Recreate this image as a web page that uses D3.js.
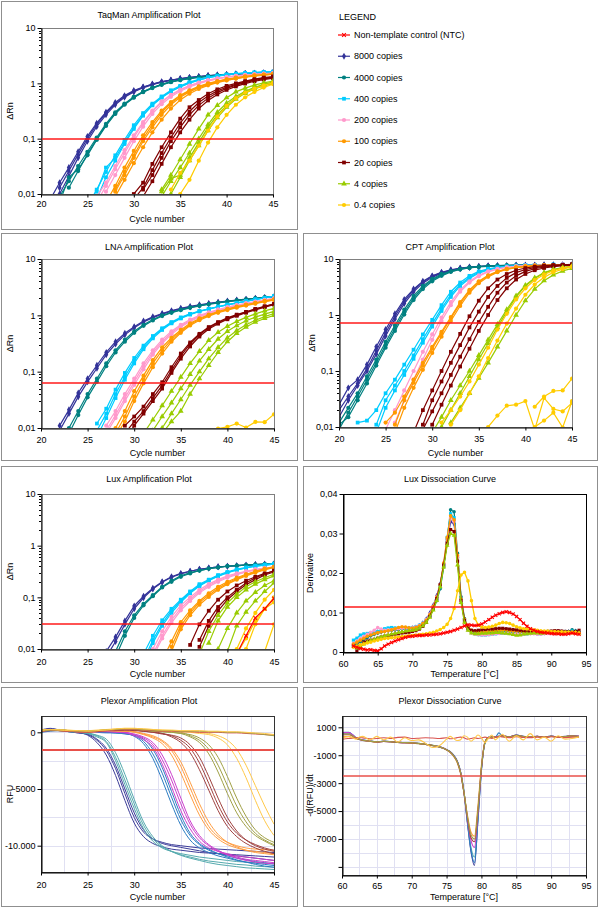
<!DOCTYPE html>
<html>
<head>
<meta charset="utf-8">
<script src="https://cdn.jsdelivr.net/npm/d3@7"></script>
<style>
  body { margin: 0; background: #fff; }
  svg { display: block; font-family: "Liberation Sans", Arial, Helvetica, sans-serif; font-size: 9px; }
</style>
</head>
<body>
<svg id="fig" width="600" height="907"></svg>
<script>
'use strict';

// ---- data ------------------------------------------------------------------

const groups = ['NTC', '8000', '4000', '400', '200', '100', '20', '4', '0.4'];
const groupLabels = ['Non-template control (NTC)', '8000 copies', '4000 copies', '400 copies',
  '200 copies', '100 copies', '20 copies', '4 copies', '0.4 copies'];
const groupColors = ['#ff0000', '#333399', '#008080', '#00ccff', '#ff99cc', '#ff9900', '#800000', '#99cc00', '#ffcc00'];
const groupMarkers = ['x', 'diamond', 'circle', 'square', 'circle', 'circle', 'square', 'triangle', 'circle'];
const plexorColors = {NTC: '#d9534f', '8000': '#3d3d99', '4000': '#55aaae', '400': '#2b7cc2', '200': '#cc3fcc',
  '100': '#ff9d40', '20': '#a0413f', '4': '#a0a045', '0.4': '#ffc94a'};

const cycles = [20, 21, 22, 23, 24, 25, 26, 27, 28, 29, 30, 31, 32, 33, 34, 35, 36, 37, 38, 39, 40, 41, 42, 43, 44, 45];

// [group, first cycle, delta Rn per cycle]
const taqmanCurves = [
  ['8000', 22, [0.013,0.026,0.052,0.1,0.18,0.29,0.43,0.58,0.72,0.85,0.96,1.06,1.14,1.21,1.27,1.32,1.37,1.41,1.44,1.47,1.5,1.52,1.54,1.56]],
  ['8000', 21, [0.008,0.016,0.03,0.058,0.11,0.19,0.3,0.45,0.6,0.74,0.86,0.97,1.07,1.15,1.22,1.28,1.33,1.38,1.42,1.45,1.48,1.51,1.53,1.55,1.57]],
  ['8000', 22, [0.01,0.021,0.045,0.09,0.165,0.27,0.41,0.56,0.7,0.83,0.95,1.05,1.13,1.2,1.26,1.31,1.36,1.4,1.43,1.46,1.49,1.51,1.53,1.55]],
  ['4000', 22, [0.009,0.017,0.032,0.058,0.105,0.185,0.3,0.43,0.57,0.71,0.84,0.96,1.07,1.16,1.24,1.3,1.35,1.4,1.44,1.47,1.5,1.52,1.54,1.56]],
  ['4000', 23, [0.013,0.026,0.052,0.098,0.175,0.285,0.42,0.56,0.7,0.83,0.95,1.06,1.15,1.23,1.29,1.34,1.39,1.43,1.46,1.49,1.51,1.53,1.55]],
  ['4000', 22, [0.007,0.02,0.028,0.05,0.095,0.17,0.28,0.41,0.55,0.69,0.82,0.94,1.05,1.14,1.22,1.28,1.34,1.39,1.43,1.46,1.49,1.51,1.53,1.55]],
  ['400', 25, [0.006,0.012,0.025,0.05,0.095,0.175,0.29,0.43,0.58,0.75,0.9,1.05,1.18,1.29,1.38,1.45,1.5,1.54,1.57,1.6,1.62]],
  ['400', 26, [0.011,0.03,0.045,0.085,0.16,0.27,0.41,0.56,0.72,0.87,1.02,1.15,1.27,1.36,1.43,1.49,1.53,1.56,1.59,1.61]],
  ['400', 26, [0.008,0.02,0.04,0.08,0.15,0.26,0.4,0.55,0.71,0.86,1.01,1.14,1.26,1.35,1.42,1.48,1.52,1.56,1.59,1.61]],
  ['200', 26, [0.007,0.014,0.028,0.055,0.105,0.19,0.31,0.46,0.61,0.76,0.9,1.02,1.13,1.22,1.3,1.36,1.41,1.45,1.49,1.52]],
  ['200', 26, [0.009,0.016,0.032,0.062,0.115,0.2,0.32,0.47,0.62,0.77,0.91,1.03,1.14,1.23,1.31,1.37,1.42,1.46,1.5,1.53]],
  ['200', 27, [0.011,0.022,0.045,0.09,0.165,0.28,0.42,0.57,0.72,0.86,0.99,1.1,1.2,1.28,1.35,1.4,1.45,1.49,1.52]],
  ['100', 27, [0.007,0.014,0.03,0.06,0.115,0.2,0.32,0.46,0.61,0.75,0.88,1.0,1.1,1.19,1.27,1.34,1.39,1.44,1.48]],
  ['100', 28, [0.012,0.025,0.05,0.1,0.18,0.3,0.44,0.59,0.73,0.86,0.98,1.08,1.17,1.25,1.32,1.38,1.43,1.47]],
  ['100', 28, [0.009,0.018,0.036,0.07,0.13,0.22,0.35,0.5,0.65,0.79,0.92,1.03,1.13,1.22,1.3,1.37,1.42,1.46]],
  ['100', 28, [0.011,0.022,0.045,0.09,0.16,0.27,0.41,0.56,0.7,0.83,0.95,1.05,1.14,1.22,1.29,1.35,1.4,1.45]],
  ['20', 30, [0.01,0.016,0.035,0.07,0.13,0.23,0.37,0.5,0.65,0.78,0.9,1.0,1.1,1.19,1.27,1.33]],
  ['20', 30, [0.008,0.013,0.027,0.055,0.105,0.19,0.31,0.45,0.59,0.73,0.85,0.96,1.06,1.16,1.24,1.3]],
  ['20', 31, [0.012,0.022,0.045,0.09,0.16,0.27,0.4,0.54,0.68,0.81,0.93,1.03,1.13,1.21,1.27]],
  ['20', 31, [0.009,0.017,0.035,0.07,0.13,0.22,0.35,0.49,0.63,0.76,0.88,0.99,1.09,1.17,1.24]],
  ['4', 33, [0.012,0.022,0.042,0.08,0.15,0.27,0.4,0.55,0.7,0.82,0.93,1.02,1.1]],
  ['4', 33, [0.009,0.017,0.03,0.055,0.1,0.18,0.3,0.44,0.58,0.72,0.85,0.96,1.05]],
  ['4', 33, [0.011,0.019,0.022,0.045,0.085,0.16,0.27,0.4,0.55,0.69,0.82,0.93,1.02]],
  ['4', 34, [0.01,0.02,0.04,0.075,0.14,0.24,0.37,0.52,0.66,0.79,0.9,1.0]],
  ['0.4', 35, [0.01,0.018,0.04,0.085,0.16,0.27,0.41,0.56,0.7,0.84,0.97]],
  ['0.4', 34, [0.012,0.024,0.04,0.075,0.14,0.25,0.39,0.54,0.68,0.8,0.92,1.02]]
];

const lnaCurves = [
  ['8000', 22, [0.011,0.021,0.042,0.075,0.13,0.22,0.34,0.48,0.63,0.79,0.94,1.08,1.21,1.33,1.44,1.54,1.63,1.71,1.79,1.87,1.94,2.01,2.07,2.13]],
  ['8000', 22, [0.009,0.018,0.036,0.066,0.115,0.2,0.31,0.45,0.6,0.76,0.91,1.05,1.18,1.3,1.41,1.51,1.6,1.69,1.77,1.85,1.92,1.99,2.05,2.12]],
  ['4000', 23, [0.01,0.02,0.04,0.075,0.14,0.24,0.37,0.52,0.68,0.84,1.0,1.13,1.26,1.38,1.49,1.59,1.68,1.77,1.85,1.93,2.01,2.09,2.18]],
  ['4000', 23, [0.008,0.017,0.035,0.066,0.125,0.22,0.34,0.49,0.65,0.81,0.97,1.11,1.24,1.36,1.47,1.57,1.66,1.75,1.84,1.92,2.0,2.08,2.16]],
  ['400', 26, [0.012,0.022,0.048,0.095,0.175,0.29,0.43,0.59,0.76,0.92,1.06,1.19,1.31,1.43,1.55,1.67,1.79,1.92,2.05,2.2]],
  ['400', 26, [0.009,0.018,0.04,0.082,0.155,0.27,0.41,0.57,0.74,0.9,1.05,1.18,1.3,1.42,1.54,1.66,1.78,1.91,2.04,2.18]],
  ['400', 26, [0.007,0.015,0.034,0.072,0.14,0.25,0.39,0.55,0.72,0.88,1.03,1.17,1.29,1.41,1.53,1.65,1.77,1.9,2.03,2.17]],
  ['200', 27, [0.011,0.02,0.04,0.075,0.14,0.24,0.37,0.52,0.68,0.84,1.0,1.13,1.27,1.4,1.52,1.64,1.76,1.88,2.0]],
  ['200', 27, [0.009,0.017,0.034,0.066,0.125,0.22,0.34,0.49,0.65,0.81,0.96,1.1,1.24,1.37,1.5,1.62,1.74,1.86,1.98]],
  ['200', 27, [0.008,0.015,0.03,0.058,0.11,0.2,0.32,0.46,0.62,0.78,0.94,1.08,1.22,1.35,1.48,1.6,1.72,1.84,1.96]],
  ['100', 28, [0.01,0.02,0.045,0.085,0.16,0.27,0.4,0.55,0.72,0.88,1.03,1.17,1.3,1.43,1.55,1.67,1.8,1.92]],
  ['100', 28, [0.008,0.016,0.036,0.072,0.14,0.24,0.37,0.52,0.69,0.85,1.0,1.14,1.27,1.4,1.52,1.64,1.77,1.9]],
  ['100', 28, [0.007,0.013,0.03,0.062,0.12,0.21,0.34,0.49,0.66,0.82,0.97,1.11,1.24,1.37,1.49,1.61,1.74,1.87]],
  ['20', 29, [0.011,0.016,0.024,0.04,0.065,0.12,0.21,0.33,0.47,0.62,0.76,0.9,1.03,1.15,1.3,1.45,1.6]],
  ['20', 29, [0.008,0.013,0.02,0.034,0.057,0.105,0.19,0.31,0.45,0.6,0.74,0.88,1.01,1.14,1.28,1.43,1.58]],
  ['20', 29, [0.006,0.011,0.018,0.03,0.05,0.095,0.17,0.28,0.42,0.57,0.71,0.85,0.98,1.11,1.25,1.4,1.55]],
  ['4', 31, [0.008,0.014,0.025,0.045,0.08,0.14,0.23,0.36,0.5,0.64,0.78,0.92,1.06,1.2,1.33]],
  ['4', 32, [0.009,0.016,0.028,0.05,0.09,0.155,0.25,0.38,0.52,0.66,0.8,0.93,1.05,1.18]],
  ['4', 32, [0.006,0.01,0.018,0.032,0.058,0.1,0.17,0.27,0.4,0.54,0.68,0.82,0.95,1.08]],
  ['4', 33, [0.008,0.013,0.02,0.04,0.075,0.13,0.22,0.34,0.48,0.62,0.76,0.88,1.0]],
  ['0.4', 39, [0.0098,0.0105,0.012,0.0102,0.0128,0.0127,0.0175]]
];

const cptCurves = [
  ['8000', 20, [0.025,0.05,0.07,0.13,0.27,0.55,1.05,1.9,2.9,4.0,5.0,5.8,6.4,6.9,7.2,7.4,7.5,7.6,7.6,7.7,7.7,7.7,7.8,7.8,7.8,7.8]],
  ['8000', 20, [0.02,0.035,0.06,0.11,0.23,0.48,0.95,1.75,2.8,3.9,4.9,5.7,6.3,6.8,7.1,7.3,7.5,7.6,7.6,7.7,7.7,7.7,7.8,7.8,7.8,7.8]],
  ['8000', 20, [0.015,0.03,0.055,0.1,0.2,0.42,0.85,1.6,2.6,3.7,4.7,5.6,6.2,6.7,7.1,7.3,7.5,7.6,7.6,7.7,7.7,7.7,7.8,7.8,7.8,7.8]],
  ['4000', 20, [0.012,0.022,0.04,0.08,0.16,0.33,0.65,1.25,2.2,3.3,4.4,5.4,6.1,6.7,7.1,7.3,7.5,7.6,7.7,7.7,7.8,7.8,7.8,7.8,7.8,7.8]],
  ['4000', 20, [0.009,0.018,0.035,0.07,0.14,0.29,0.58,1.12,2.0,3.1,4.2,5.2,6.0,6.6,7.0,7.3,7.5,7.6,7.7,7.7,7.8,7.8,7.8,7.8,7.8,7.8]],
  ['4000', 20, [0.011,0.015,0.03,0.06,0.125,0.26,0.52,1.02,1.85,2.9,4.0,5.0,5.9,6.5,6.9,7.2,7.4,7.5,7.6,7.7,7.7,7.8,7.8,7.8,7.8,7.8]],
  ['400', 22, [0.012,0.013,0.02,0.04,0.07,0.13,0.24,0.45,0.82,1.5,2.6,3.8,5.0,6.0,6.7,7.1,7.4,7.6,7.7,7.8,7.8,7.9,7.9,7.9]],
  ['400', 24, [0.011,0.03,0.055,0.1,0.19,0.37,0.7,1.3,2.3,3.5,4.7,5.8,6.5,7.0,7.3,7.5,7.7,7.8,7.8,7.9,7.9,7.9]],
  ['400', 24, [0.008,0.022,0.045,0.085,0.165,0.32,0.62,1.18,2.1,3.3,4.5,5.6,6.4,6.9,7.3,7.5,7.7,7.8,7.8,7.9,7.9,7.9]],
  ['200', 26, [0.012,0.03,0.07,0.16,0.36,0.78,1.5,2.6,3.8,4.9,5.9,6.6,7.1,7.4,7.6,7.7,7.8,7.8,7.9,7.9]],
  ['200', 25, [0.009,0.02,0.045,0.1,0.22,0.45,0.9,1.7,2.8,4.0,5.1,6.0,6.7,7.1,7.4,7.6,7.7,7.8,7.8,7.9,7.9]],
  ['100', 25, [0.012,0.018,0.035,0.07,0.14,0.27,0.5,0.92,1.7,2.8,4.0,5.1,6.0,6.7,7.1,7.4,7.6,7.7,7.8,7.8,7.9]],
  ['100', 26, [0.011,0.03,0.062,0.125,0.25,0.47,0.88,1.6,2.7,3.9,5.0,5.9,6.6,7.1,7.4,7.6,7.7,7.8,7.8,7.9]],
  ['100', 26, [0.008,0.022,0.05,0.105,0.21,0.41,0.78,1.45,2.5,3.7,4.8,5.8,6.5,7.0,7.3,7.5,7.7,7.8,7.8,7.9]],
  ['20', 28, [0.008,0.02,0.045,0.1,0.22,0.46,0.95,1.8,3.0,4.3,5.4,6.3,6.9,7.3,7.6,7.8,7.9,8.0]],
  ['20', 29, [0.011,0.03,0.065,0.14,0.29,0.6,1.15,2.1,3.3,4.6,5.7,6.5,7.0,7.4,7.6,7.8,7.9]],
  ['20', 29, [0.009,0.019,0.04,0.085,0.18,0.37,0.75,1.4,2.5,3.8,5.0,6.0,6.7,7.2,7.5,7.7,7.9]],
  ['20', 30, [0.011,0.025,0.055,0.12,0.25,0.52,1.0,1.85,3.0,4.3,5.4,6.3,6.9,7.3,7.6,7.8]],
  ['4', 30, [0.008,0.015,0.03,0.055,0.1,0.19,0.36,0.68,1.25,2.2,3.4,4.6,5.7,6.5,7.0,7.4]],
  ['4', 31, [0.01,0.02,0.04,0.08,0.16,0.31,0.6,1.15,2.1,3.3,4.5,5.6,6.4,7.0,7.4]],
  ['4', 32, [0.012,0.022,0.04,0.075,0.14,0.27,0.52,1.0,1.8,2.9,4.1,5.2,6.1,6.8]],
  ['0.4', 31, [0.012,0.02,0.035,0.065,0.13,0.26,0.55,1.05,1.9,3.0,4.2,5.3,6.2,6.9,7.4]],
  ['0.4', 32, [0.011,0.02,0.04,0.08,0.17,0.35,0.7,1.3,2.3,3.5,4.7,5.8,6.6,7.2]],
  ['0.4', 36, [0.01,0.016,0.024,0.025,0.029,0.009]],
  ['0.4', 41, [0.023,0.035,0.044,0.045,0.073]],
  ['0.4', 41, [0.01,0.013,0.018,0.0098,0.029]],
  ['0.4', 41, [0.009,0.033,0.021,0.019,0.027]]
];

const luxCurves = [
  ['8000', 27, [0.009,0.017,0.035,0.068,0.105,0.15,0.2,0.25,0.29,0.32,0.35,0.37,0.39,0.4,0.41,0.42,0.43,0.43,0.44]],
  ['8000', 27, [0.007,0.014,0.03,0.06,0.098,0.145,0.195,0.245,0.285,0.32,0.35,0.37,0.39,0.4,0.41,0.42,0.43,0.44,0.44]],
  ['4000', 28, [0.009,0.022,0.045,0.075,0.11,0.16,0.21,0.26,0.3,0.33,0.36,0.38,0.4,0.41,0.42,0.43,0.44,0.45]],
  ['4000', 28, [0.007,0.018,0.04,0.07,0.105,0.155,0.2,0.25,0.29,0.33,0.36,0.38,0.4,0.41,0.42,0.43,0.44,0.45]],
  ['400', 31, [0.008,0.018,0.036,0.06,0.09,0.13,0.18,0.22,0.27,0.31,0.35,0.38,0.41,0.43,0.45]],
  ['400', 31, [0.006,0.015,0.031,0.055,0.085,0.125,0.17,0.215,0.26,0.3,0.34,0.37,0.4,0.42,0.44]],
  ['400', 31, [0.005,0.013,0.028,0.05,0.08,0.12,0.165,0.21,0.255,0.3,0.34,0.37,0.4,0.42,0.44]],
  ['200', 32, [0.01,0.022,0.042,0.07,0.1,0.14,0.18,0.22,0.26,0.29,0.32,0.35,0.37,0.39]],
  ['200', 32, [0.008,0.018,0.036,0.062,0.092,0.13,0.17,0.21,0.25,0.28,0.31,0.34,0.36,0.38]],
  ['200', 32, [0.007,0.016,0.032,0.056,0.085,0.122,0.16,0.2,0.24,0.275,0.31,0.34,0.36,0.38]],
  ['100', 33, [0.006,0.014,0.033,0.056,0.085,0.12,0.16,0.2,0.24,0.28,0.32,0.36,0.39]],
  ['100', 34, [0.011,0.028,0.05,0.08,0.11,0.15,0.19,0.23,0.27,0.31,0.35,0.39]],
  ['100', 34, [0.009,0.024,0.045,0.072,0.102,0.14,0.18,0.22,0.26,0.3,0.34,0.38]],
  ['20', 36, [0.012,0.03,0.055,0.09,0.13,0.17,0.21,0.25,0.29,0.32]],
  ['20', 37, [0.015,0.035,0.065,0.1,0.14,0.19,0.24,0.28,0.33]],
  ['20', 37, [0.011,0.028,0.055,0.09,0.13,0.175,0.22,0.27,0.31]],
  ['4', 37, [0.008,0.022,0.045,0.078,0.115,0.16,0.2,0.24,0.28]],
  ['4', 38, [0.013,0.035,0.065,0.1,0.14,0.18,0.22,0.26]],
  ['4', 39, [0.01,0.025,0.05,0.085,0.125,0.17,0.21]],
  ['4', 40, [0.009,0.028,0.052,0.085,0.13,0.19]],
  ['0.4', 41, [0.01,0.025,0.05,0.09,0.14]],
  ['0.4', 42, [0.01,0.03,0.06,0.1]],
  ['0.4', 44, [0.009,0.03]],
  ['0.4', 41, [0.008,0.016,0.035,0.06,0.08]],
  ['NTC', 41, [0.008,0.018,0.04,0.06,0.095]]
];

// Lux melt curve, derivative in units of 0.001
const luxMeltTemps = [61.5,
  62,62.5,63,63.5,64,64.5,65,65.5,66,66.5,
  67,67.5,68,68.5,69,69.5,70,70.5,71,71.5,
  72,72.5,73,73.5,74,74.5,75,75.5,76,76.5,
  77,77.5,78,78.5,79,79.5,80,80.5,81,81.5,
  82,82.5,83,83.5,84,84.5,85,85.5,86,86.5,
  87,87.5,88,88.5,89,89.5,90,90.5,91,91.5,
  92,92.5,93,93.5,94];
const luxMeltCurves = [
  ['8000', [1.8,
    2.2,2.8,3.4,3.9,4.3,4.7,5.0,5.2,5.4,5.5,
    5.6,5.7,5.7,5.8,5.8,5.9,6.0,6.2,6.6,7.3,
    8.3,9.8,11.8,14.2,17.2,22.0,28.0,33.0,32.5,24.0,
    13.5,8.0,5.9,5.1,4.8,4.7,4.7,4.8,4.9,5.0,
    5.1,5.2,5.2,5.1,5.0,4.9,4.9,4.8,4.8,4.9,
    4.9,5.0,4.9,4.8,4.9,5.0,5.0,4.9,5.0,5.0,
    5.0,5.1,5.3,5.2,5.0]],
  ['4000', [1.5,
    2.0,2.6,3.2,3.7,4.1,4.5,4.8,5.1,5.3,5.5,
    5.6,5.7,5.8,5.9,5.9,6.0,6.0,6.2,6.5,7.0,
    7.8,9.0,10.8,13.0,16.0,21.5,28.5,36.0,35.5,25.0,
    14.0,8.5,6.2,5.3,5.0,4.8,4.7,4.8,5.0,5.1,
    5.2,5.3,5.3,5.2,5.1,5.0,4.9,4.8,4.8,4.9,
    5.0,5.0,4.9,4.8,4.9,5.0,5.0,4.9,5.0,5.1,
    5.0,5.1,5.6,5.3,5.0]],
  ['400', [3.0,
    3.5,4.3,4.6,4.7,4.8,5.0,5.2,5.5,5.9,6.1,
    6.2,6.1,6.0,6.0,6.1,6.1,6.2,6.4,6.8,7.3,
    8.2,9.5,11.2,13.5,16.5,22.0,29.0,35.0,34.0,24.0,
    13.5,8.0,5.8,5.0,4.6,4.4,4.3,4.3,4.4,4.5,
    4.6,4.7,4.8,4.8,4.7,4.6,4.6,4.5,4.5,4.6,
    4.7,4.7,4.6,4.6,4.7,4.8,4.8,4.7,4.8,4.8,
    4.9,5.0,5.3,5.1,4.9]],
  ['200', [2.2,
    2.8,3.4,4.0,4.5,5.0,5.5,6.2,5.8,5.5,5.6,
    5.7,5.8,5.9,6.0,6.0,6.0,6.1,6.3,6.7,7.3,
    8.2,9.6,11.6,14.0,17.0,22.5,28.5,34.0,33.0,24.0,
    13.0,7.5,5.5,4.8,4.5,4.4,4.3,4.3,4.4,4.5,
    4.6,4.7,4.8,4.8,4.7,4.6,4.6,4.5,4.5,4.6,
    4.6,4.6,4.5,4.5,4.6,4.7,4.7,4.6,4.7,4.7,
    4.8,4.8,5.0,4.9,4.7]],
  ['100', [2.0,
    2.5,3.0,3.5,4.0,4.3,4.6,4.9,5.1,5.2,5.4,
    5.6,5.9,6.2,6.4,6.3,6.1,6.0,6.2,6.6,7.2,
    8.0,9.4,11.5,13.8,17.0,22.5,29.0,34.5,33.5,24.5,
    13.5,8.3,6.3,5.5,5.2,5.0,5.0,5.1,5.2,5.3,
    5.4,5.4,5.5,5.5,5.4,5.3,5.3,5.2,5.2,5.1,
    5.1,5.0,5.0,5.0,5.1,5.1,5.0,5.0,4.9,4.9,
    5.0,4.9,4.8,4.9,4.8]],
  ['20', [null,
    0.3,1.5,2.5,2.8,3.0,3.2,3.5,3.8,4.0,4.2,
    4.3,4.5,4.6,4.8,4.9,5.0,5.2,5.4,5.8,6.5,
    7.5,9.0,11.0,13.5,17.0,22.0,27.5,31.0,30.5,23.0,
    13.0,8.0,6.0,5.5,5.4,5.5,5.6,5.7,5.8,5.8,
    5.9,6.0,6.0,5.9,5.8,5.7,5.6,5.5,5.4,5.3,
    5.2,5.2,5.1,5.0,5.1,5.2,5.3,5.4,5.4,5.3,
    5.2,5.1,5.0,5.2,5.5]],
  ['4', [null,
    1.0,1.5,2.0,2.5,2.9,3.2,3.5,3.8,4.1,4.3,
    4.5,4.7,4.9,5.1,5.3,5.4,5.5,5.6,6.0,6.6,
    7.5,8.8,10.6,13.0,16.5,21.5,27.0,30.0,29.5,22.0,
    12.5,7.5,5.5,4.8,4.6,4.6,4.7,4.7,4.8,4.8,
    4.9,4.9,4.8,4.7,4.6,4.4,4.2,4.3,4.5,4.6,
    4.7,4.8,4.8,4.7,4.8,4.9,4.9,4.8,4.8,4.9,
    4.9,5.0,5.0,4.9,4.8]],
  ['0.4', [1.2,
    1.5,1.8,2.0,2.3,2.5,2.8,3.0,3.2,3.4,3.5,
    3.6,3.7,3.8,3.9,4.0,4.1,4.2,4.3,4.4,4.5,
    4.6,4.8,5.0,5.3,5.7,6.2,7.0,8.5,11.0,15.5,
    19.5,20.2,18.0,13.0,8.5,6.8,6.3,6.2,6.3,6.5,
    6.8,7.2,7.5,7.4,7.2,6.8,6.4,6.1,5.9,5.8,
    5.7,5.6,5.5,5.4,5.3,5.3,5.2,5.2,5.1,5.1,
    5.0,5.0,5.0,4.9,4.8]],
  ['NTC', [1.5,
    1.2,0.9,0.7,0.5,0.6,0.4,0.3,0.8,1.5,2.0,
    2.4,2.8,3.1,3.4,3.7,3.9,4.0,4.1,4.2,4.2,
    4.3,4.3,4.4,4.5,4.6,4.8,5.0,5.2,5.5,5.8,
    6.2,6.6,6.9,6.8,6.7,6.8,7.1,7.6,8.2,8.8,
    9.3,9.7,10.0,10.2,10.0,9.6,9.0,8.2,7.3,6.5,
    5.9,5.5,5.2,5.0,4.9,4.8,4.7,4.6,4.6,4.5,
    4.5,4.6,4.8,4.6,4.5]]
];

// Plexor RFU, cycles 20..45
const plexorCurves = [
  ['8000', [150,300,200,50,-50,-200,-700,-1600,-3200,-5400,-7500,-8800,-9400,-9700,-9900,-10000,-10100,-10200,-10250,-10300,-10350,-10400,-10450,-10500,-10550,-10600]],
  ['8000', [100,250,250,100,0,-250,-900,-2000,-3800,-6000,-8000,-9200,-9800,-10100,-10300,-10400,-10500,-10600,-10650,-10700,-10750,-10800,-10850,-10900,-10950,-11000]],
  ['8000', [200,350,200,50,-50,-150,-600,-1400,-2900,-5000,-7100,-8600,-9400,-9800,-10000,-10150,-10300,-10450,-10600,-10700,-10800,-10900,-11000,-11100,-11200,-11300]],
  ['4000', [100,200,150,50,0,-100,-300,-800,-2200,-4200,-6300,-8200,-9400,-10100,-10500,-10800,-11000,-11200,-11350,-11450,-11550,-11650,-11700,-11800,-11850,-11900]],
  ['4000', [50,150,150,100,50,-50,-250,-600,-1800,-3700,-5900,-7900,-9200,-10000,-10500,-10850,-11100,-11300,-11500,-11650,-11750,-11850,-11950,-12000,-12050,-12100]],
  ['4000', [150,250,200,100,0,-100,-400,-900,-2500,-4600,-6700,-8500,-9600,-10200,-10500,-10700,-10850,-11000,-11100,-11200,-11300,-11400,-11450,-11500,-11550,-11600]],
  ['400', [50,150,200,150,100,50,0,0,-50,-100,-300,-800,-1900,-3600,-5700,-7700,-9100,-9900,-10400,-10700,-10900,-11100,-11250,-11400,-11500,-11600]],
  ['400', [100,200,150,100,50,50,0,-50,-50,-150,-250,-600,-1500,-3100,-5200,-7300,-8900,-9800,-10300,-10700,-11000,-11250,-11450,-11650,-11800,-11900]],
  ['400', [0,100,150,100,50,0,0,0,-50,-100,-350,-1000,-2300,-4200,-6300,-8200,-9500,-10200,-10600,-10900,-11100,-11300,-11450,-11550,-11650,-11750]],
  ['200', [150,250,200,100,50,0,50,100,50,0,-200,-500,-1100,-2400,-4200,-6300,-8100,-9300,-10000,-10500,-10800,-11000,-11200,-11300,-11400,-11500]],
  ['200', [100,200,150,100,50,50,100,100,50,0,-150,-400,-900,-2000,-3700,-5800,-7800,-9100,-9900,-10400,-10800,-11100,-11300,-11450,-11550,-11600]],
  ['200', [150,250,200,100,50,0,50,50,0,-50,-300,-650,-1300,-2800,-4800,-6900,-8500,-9600,-10200,-10500,-10700,-10900,-11000,-11100,-11200,-11300]],
  ['100', [100,200,200,150,100,50,100,150,100,100,0,-200,-500,-1000,-2000,-3600,-5500,-7300,-8600,-9400,-9900,-10200,-10400,-10500,-10600,-10700]],
  ['100', [150,250,150,100,50,50,100,200,150,100,50,-150,-400,-800,-1600,-3000,-4900,-6800,-8300,-9200,-9700,-10000,-10200,-10300,-10350,-10400]],
  ['100', [100,200,150,100,50,0,50,150,150,100,50,-100,-300,-700,-1400,-2600,-4400,-6300,-7900,-9000,-9700,-10100,-10400,-10600,-10700,-10800]],
  ['20', [200,250,200,150,100,50,100,150,200,200,200,100,0,-100,-300,-700,-1400,-2700,-4500,-6400,-7900,-8900,-9500,-9900,-10200,-10400]],
  ['20', [150,250,200,100,50,50,100,150,150,200,150,100,50,-100,-400,-900,-1800,-3300,-5100,-6900,-8300,-9200,-9800,-10200,-10500,-10700]],
  ['20', [100,200,150,100,50,50,100,200,200,250,200,100,0,-150,-250,-500,-1100,-2200,-3900,-5800,-7500,-8700,-9500,-10000,-10300,-10500]],
  ['4', [200,250,200,150,100,100,150,200,250,300,300,200,150,100,50,0,-300,-700,-1500,-2900,-4700,-6500,-7900,-8900,-9500,-9900]],
  ['4', [150,200,200,150,100,100,150,200,250,300,250,200,100,50,0,-100,-200,-500,-1100,-2200,-3900,-5800,-7400,-8600,-9300,-9700]],
  ['4', [100,200,150,150,100,100,150,200,250,300,300,200,100,50,0,-100,-400,-900,-1900,-3500,-5400,-7100,-8300,-9100,-9600,-10000]],
  ['0.4', [200,250,250,200,150,150,200,250,300,350,350,300,250,200,150,100,50,0,-100,-300,-700,-1500,-2900,-4700,-6500,-8100]],
  ['0.4', [150,250,200,150,100,100,150,200,250,300,300,250,200,150,100,50,0,-100,-200,-500,-1100,-2300,-4000,-6000,-7800,-9100]],
  ['NTC', [50,150,150,100,50,50,100,150,200,250,250,200,150,100,100,50,50,0,0,0,-50,-50,-100,-150,-200,-250]],
  ['4', [100,200,200,150,100,100,150,200,250,300,300,250,200,150,150,100,100,100,50,50,0,0,-50,-100,-200,-300]],
  ['0.4', [150,250,200,150,150,100,150,200,300,350,350,300,250,200,200,150,150,150,100,100,50,50,0,-50,-100,-200]]
];

// Plexor melt curve, -d(RFU)/dT
const plexorMeltTemps = [60,60.5,61,61.5,62,62.5,63,
  64,65,66,67,68,69,70,71,72,73,74,
  75,75.5,76,76.5,77,77.5,78,78.5,79,79.5,80,80.5,81,81.5,82,82.5,83,
  84,85,86,87,88,89,90,91,92,93,94];
const plexorMeltCurves = [
  ['8000', [600,620,620,450,250,150,80, 20,-50,0,-30,-80,-100,-120,-160,-220,-300,-400,
    -600,-750,-1000,-1400,-2200,-3700,-5900,-7900,-8900,-5600,-2000,-100,280,320,300,350,400,
    300,450,350,300,350,300,380,300,350,400,350]],
  ['4000', [550,580,580,420,230,130,60, 0,-60,-20,-50,-90,-110,-130,-170,-230,-320,-420,
    -620,-780,-1050,-1450,-2250,-3700,-5800,-7600,-8300,-5400,-2000,-150,250,300,320,380,350,
    300,420,330,320,360,280,360,320,330,380,330]],
  ['400', [620,640,640,480,260,160,90, 30,-40,10,-20,-70,-90,-110,-150,-210,-290,-390,
    -580,-730,-980,-1380,-2150,-3600,-5800,-7800,-8700,-5700,-2100,-120,280,330,300,600,380,
    320,440,350,300,340,300,370,310,340,390,340]],
  ['200', [600,620,620,470,240,140,70, 10,-50,-10,-40,-80,-100,-120,-160,-220,-300,-400,
    -600,-760,-1020,-1420,-2200,-3700,-5600,-7100,-7600,-5200,-2000,-50,270,310,290,340,400,
    310,430,340,310,350,290,360,320,340,380,360]],
  ['100', [320,330,330,280,200,120,60, 0,-60,-20,-40,-90,-110,-130,-170,-230,-310,-420,
    -620,-800,-1080,-1500,-2300,-3700,-5300,-6500,-6800,-4600,-1700,-50,260,300,280,330,370,
    300,420,330,300,340,280,350,300,330,370,320]],
  ['20', [450,470,470,380,220,130,60, 0,-50,-10,-40,-80,-100,-120,-160,-220,-300,-410,
    -610,-770,-1040,-1440,-2250,-3700,-5500,-6900,-7200,-5000,-1900,-80,270,310,290,340,390,
    310,430,340,300,350,290,360,310,340,380,350]],
  ['4', [500,520,520,400,230,140,70, 10,-40,0,-30,-70,-90,-110,-150,-210,-290,-400,
    -600,-760,-1030,-1430,-2200,-3650,-5400,-6700,-7000,-4900,-1900,-100,260,300,280,320,380,
    300,410,330,300,340,280,350,300,330,370,340]],
  ['NTC', [150,180,200,220,250,260,240, 180,200,250,200,280,300,200,220,250,230,200,
    250,180,200,260,300,250,150,200,250,200,230,300,250,200,280,350,300,
    250,320,280,260,300,280,320,300,260,300,280]],
  ['0.4', [200,300,350,250,150,300,350, 100,350,100,300,-50,250,50,100,-150,-450,-300,
    150,350,200,50,100,400,300,0,200,450,250,-100,200,450,100,300,500,
    0,400,100,550,100,300,0,400,150,200,300]]
];

const taqmanThreshold = 0.1;
const lnaThreshold = 0.063;
const cptThreshold = 0.72;
const luxThreshold = 0.03;
const luxMeltThreshold = 11.3;
const plexorThreshold = -1530;
const plexorMeltThreshold = -2480;

// ---- drawing ---------------------------------------------------------------

const svg = d3.select('#fig');
const symbolTypes = {
  diamond: d3.symbolDiamond, circle: d3.symbolCircle, square: d3.symbolSquare, triangle: d3.symbolTriangle
};

function drawMarker(parent, cx, cy, type, color, size) {
  if (type === 'x') {
    const r = Math.sqrt(size) / 2;
    parent.append('path')
      .attr('d', `M${cx - r},${cy - r}L${cx + r},${cy + r}M${cx - r},${cy + r}L${cx + r},${cy - r}`)
      .attr('stroke', color).attr('stroke-width', 1.1).attr('fill', 'none');
    return;
  }
  parent.append('path')
    .attr('transform', `translate(${cx},${cy})`)
    .attr('d', d3.symbol(symbolTypes[type], size)())
    .attr('fill', color);
}

const logFormat = d => String(d).replace('.', ',');
const panels = [];

function buildPanel(cfg) {
  const [bx, by, bw, bh] = cfg.box;
  const [x0, x1, y0, y1] = cfg.plot;
  const root = svg.append('g');
  root.append('rect')
    .attr('x', bx + .5).attr('y', by + .5).attr('width', bw).attr('height', bh)
    .attr('fill', '#fff').attr('stroke', '#8f8f8f');
  root.append('text')
    .attr('x', bx + bw / 2).attr('y', cfg.titleY + 3)
    .attr('text-anchor', 'middle').text(cfg.title);

  const x = d3.scaleLinear().domain(cfg.xDomain).range([x0, x1]);
  const y = (cfg.log ? d3.scaleLog() : d3.scaleLinear()).domain(cfg.yDomain).range([y1, y0]);

  const grid = root.append('g').attr('stroke', '#e0e0f2');
  (cfg.xGrid || []).forEach(v => {
    const px = Math.round(x(v)) + .5;
    grid.append('line').attr('x1', px).attr('x2', px).attr('y1', y0).attr('y2', y1);
  });
  (cfg.yGrid || []).forEach(v => {
    const py = Math.round(y(v)) + .5;
    grid.append('line').attr('x1', x0).attr('x2', x1).attr('y1', py).attr('y2', py);
  });

  root.append('clipPath').attr('id', 'clip-' + cfg.id)
    .append('rect').attr('x', x0).attr('y', y0).attr('width', x1 - x0).attr('height', y1 - y0);
  const plot = root.append('g').attr('clip-path', `url(#clip-${cfg.id})`);
  const p = {cfg, root, plot, x, y};
  panels.push(p);
  return p;
}

function finishPanel(p) {
  const {cfg, root, x, y} = p;
  const [x0, x1, y0, y1] = cfg.plot;
  root.append('rect')
    .attr('x', x0 + .5).attr('y', y0 + .5).attr('width', x1 - x0).attr('height', y1 - y0)
    .attr('fill', 'none').attr('stroke', cfg.frame);

  const xAxis = root.append('g').attr('transform', `translate(0,${y1 + .5})`)
    .call(d3.axisBottom(x).tickValues(cfg.xTicks).tickSize(3).tickSizeOuter(0)
      .tickPadding(cfg.xPad).tickFormat(d3.format('d')));
  const yAxis = root.append('g').attr('transform', `translate(${x0 + .5},0)`)
    .call(d3.axisLeft(y).tickValues(cfg.yTicks).tickSize(4).tickSizeOuter(0)
      .tickPadding(2).tickFormat(cfg.yFormat));
  [xAxis, yAxis].forEach(a => {
    a.attr('font-family', null).attr('font-size', null);
    a.select('.domain').attr('stroke', '#000');
    a.selectAll('.tick line').attr('stroke', '#000');
    a.selectAll('.tick text').attr('fill', '#000');
  });
  if (cfg.log) {
    const minor = y.ticks().filter(v => !cfg.yTicks.some(t => Math.abs(t - v) / t < 1e-6));
    const mg = root.append('g');
    minor.forEach(v => {
      const py = Math.round(y(v)) + .5;
      mg.append('line').attr('x1', x0 - 2).attr('x2', x0).attr('y1', py).attr('y2', py).attr('stroke', '#000');
    });
  }

  root.append('text')
    .attr('x', (x0 + x1) / 2).attr('y', cfg.xLabelY + 3)
    .attr('text-anchor', 'middle').text(cfg.xLabel);
  root.append('text')
    .attr('transform', `translate(${cfg.yLabelX + 3},${(y0 + y1) / 2}) rotate(-90)`)
    .attr('text-anchor', 'middle').text(cfg.yLabel);
}

function drawAmplification(p, curves) {
  const line = d3.line().x(d => p.x(d[0])).y(d => p.y(d[1]));
  curves.forEach(([key, first, vals]) => {
    const gi = groups.indexOf(key);
    const c0 = cycles.indexOf(first);
    const pts = vals.map((v, i) => [cycles[c0 + i], v]);
    p.plot.append('path').attr('d', line(pts))
      .attr('fill', 'none').attr('stroke', groupColors[gi]).attr('stroke-width', 1.2);
    pts.forEach(d => drawMarker(p.plot, p.x(d[0]), p.y(d[1]), groupMarkers[gi], groupColors[gi], 14));
  });
}

function drawSmooth(p, temps, curves, width) {
  const line = d3.line().curve(d3.curveMonotoneX).x(d => p.x(d[0])).y(d => p.y(d[1]));
  curves.forEach(([key, vals]) => {
    const pts = vals.map((v, i) => [temps[i], v]);
    p.plot.append('path').attr('d', line(pts))
      .attr('fill', 'none').attr('stroke', plexorColors[key]).attr('stroke-width', width);
  });
}

const ampBase = {
  log: true, xDomain: [20, 45], yDomain: [0.01, 10],
  xTicks: [20, 25, 30, 35, 40, 45], yTicks: [0.01, 0.1, 1, 10], yFormat: logFormat,
  xLabel: 'Cycle number', yLabel: '\u0394Rn', frame: '#808080',
  thresholdColor: '#ff1a1a', thresholdWidth: 1.5
};

// TaqMan
const taqman = buildPanel(Object.assign({}, ampBase, {
  id: 'taq', box: [1, 1, 296, 228], plot: [41, 273, 28, 194], titleY: 15,
  title: 'TaqMan Amplification Plot', xPad: 3, xLabelY: 219, yLabelX: 10, threshold: taqmanThreshold
}));
drawAmplification(taqman, taqmanCurves);
finishPanel(taqman);

// legend
const legend = svg.append('g');
legend.append('text').attr('x', 339).attr('y', 20).text('LEGEND');
groups.forEach((key, i) => {
  const cy = 35 + i * 21.25;
  legend.append('line').attr('x1', 338).attr('x2', 350).attr('y1', cy).attr('y2', cy)
    .attr('stroke', groupColors[i]).attr('stroke-width', 1.2);
  drawMarker(legend, 344, cy, groupMarkers[i], groupColors[i], 14);
  legend.append('text').attr('x', 354).attr('y', cy + 3).text(groupLabels[i]);
});

// LNA
const lna = buildPanel(Object.assign({}, ampBase, {
  id: 'lna', box: [1, 233, 296, 227], plot: [41, 274, 259, 428], titleY: 247,
  title: 'LNA Amplification Plot', xPad: 5, xLabelY: 453, yLabelX: 10, threshold: lnaThreshold
}));
drawAmplification(lna, lnaCurves);
finishPanel(lna);

// CPT
const cpt = buildPanel(Object.assign({}, ampBase, {
  id: 'cpt', box: [303, 233, 294, 227], plot: [339, 572, 259, 427], titleY: 247,
  title: 'CPT Amplification Plot', xPad: 5, xLabelY: 453, yLabelX: 312, threshold: cptThreshold
}));
drawAmplification(cpt, cptCurves);
finishPanel(cpt);

// Lux amplification
const lux = buildPanel(Object.assign({}, ampBase, {
  id: 'lux', box: [1, 466, 296, 216], plot: [41, 274, 494, 649], titleY: 479,
  title: 'Lux Amplification Plot', xPad: 6, xLabelY: 674, yLabelX: 10, threshold: luxThreshold
}));
drawAmplification(lux, luxCurves);
finishPanel(lux);

// Lux dissociation
const luxMelt = buildPanel({
  id: 'luxm', box: [303, 466, 294, 216], plot: [343, 586, 494, 652], titleY: 479,
  title: 'Lux Dissociation Curve', xDomain: [60, 95], yDomain: [0, 40],
  xTicks: [60, 65, 70, 75, 80, 85, 90, 95], yTicks: [0, 10, 20, 30, 40],
  yFormat: d => d === 0 ? '0' : '0,0' + d / 10,
  xPad: 5, xLabel: 'Temperature [\u00b0C]', xLabelY: 674, yLabel: 'Derivative', yLabelX: 310,
  threshold: luxMeltThreshold, thresholdColor: '#ff1a1a', thresholdWidth: 1.5, frame: '#000'
});
{
  const line = d3.line().defined(d => d[1] != null).x(d => luxMelt.x(d[0])).y(d => luxMelt.y(d[1]));
  luxMeltCurves.forEach(([key, vals]) => {
    const gi = groups.indexOf(key);
    const pts = vals.map((v, i) => [luxMeltTemps[i], v]);
    luxMelt.plot.append('path').attr('d', line(pts))
      .attr('fill', 'none').attr('stroke', groupColors[gi]).attr('stroke-width', 1.3);
    pts.filter(d => d[1] != null).forEach(d =>
      drawMarker(luxMelt.plot, luxMelt.x(d[0]), luxMelt.y(d[1]), groupMarkers[gi], groupColors[gi], 10));
  });
}
finishPanel(luxMelt);

// Plexor amplification
const plexor = buildPanel({
  id: 'plx', box: [1, 687, 296, 219], plot: [41, 274, 716, 872], titleY: 701,
  title: 'Plexor Amplification Plot', xDomain: [20, 45], yDomain: [-12320, 1440],
  xTicks: [20, 25, 30, 35, 40, 45], yTicks: [0, -5000, -10000],
  yFormat: d => d === -10000 ? '-10.000' : String(d),
  xGrid: [22.5, 25, 27.5, 30, 32.5, 35, 37.5, 40, 42.5], yGrid: [0, -2500, -5000, -7500, -10000],
  xPad: 6, xLabel: 'Cycle number', xLabelY: 897, yLabel: 'RFU', yLabelX: 10,
  threshold: plexorThreshold, thresholdColor: '#e8504a', thresholdWidth: 2, frame: '#333'
});
drawSmooth(plexor, cycles, plexorCurves, 1);
finishPanel(plexor);

// Plexor dissociation
const plexorMelt = buildPanel({
  id: 'plxm', box: [303, 687, 294, 219], plot: [342, 586, 716, 875], titleY: 701,
  title: 'Plexor Dissociation Curve', xDomain: [60, 95], yDomain: [-9580, 1810],
  xTicks: [60, 65, 70, 75, 80, 85, 90, 95], yTicks: [1000, -1000, -3000, -5000, -7000, -9000],
  yFormat: d => d === -9000 ? '' : String(d),
  xGrid: [62.5, 65, 67.5, 70, 72.5, 75, 77.5, 80, 82.5, 85, 87.5, 90, 92.5],
  yGrid: [1000, 0, -1000, -2000, -3000, -4000, -5000, -6000, -7000, -8000, -9000],
  xPad: 4, xLabel: 'Temperature [\u00b0C]', xLabelY: 897, yLabel: '-d(RFU)/dt', yLabelX: 310,
  threshold: plexorMeltThreshold, thresholdColor: '#e8504a', thresholdWidth: 1.5, frame: '#333'
});
drawSmooth(plexorMelt, plexorMeltTemps, plexorMeltCurves, 1.1);
finishPanel(plexorMelt);

// threshold lines on top of everything, centred on a pixel boundary so they cover two rows
const thresholdLayer = svg.append('g');
panels.forEach(p => {
  const [x0, x1] = p.cfg.plot;
  const ty = Math.round(p.y(p.cfg.threshold));
  thresholdLayer.append('line')
    .attr('x1', x0 + 1).attr('x2', x1).attr('y1', ty).attr('y2', ty)
    .style('stroke', p.cfg.thresholdColor)
    .style('stroke-width', p.cfg.thresholdWidth);
});
</script>
</body>
</html>
